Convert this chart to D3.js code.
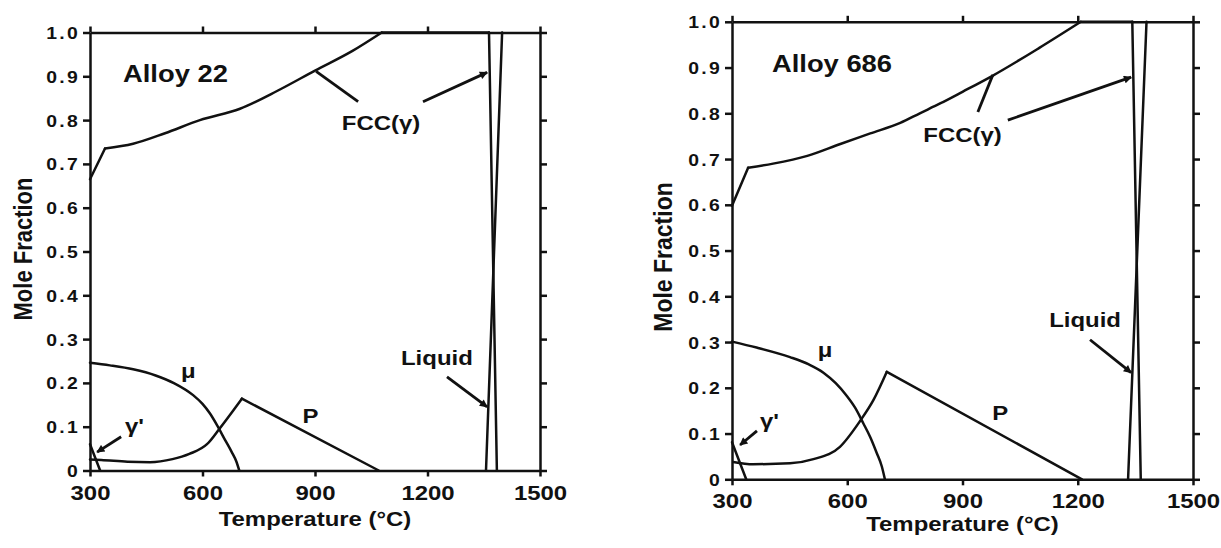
<!DOCTYPE html>
<html>
<head>
<meta charset="utf-8">
<script src="https://cdn.jsdelivr.net/npm/d3@7"></script>
<style>
  body { margin: 0; background: #fff; }
  svg text { font-family: 'Liberation Sans', Arial, sans-serif; font-weight: bold; fill: #111; }
</style>
</head>
<body>
<div class="canvas"></div>
<script>
// axis ticks
const tempTicks = [300, 600, 900, 1200, 1500];
const fracTicks = [0, 0.1, 0.2, 0.3, 0.4, 0.5, 0.6, 0.7, 0.8, 0.9, 1.0];

// Alloy 22 phase fractions [temperature, mole fraction]
const a22Fcc = [[300, 0.665], [340, 0.735], [415, 0.746], [500, 0.77], [593, 0.8], [700, 0.826],
    [800, 0.867], [900, 0.913], [1000, 0.958], [1078, 1.0], [1364, 1.0], [1385, 0]];
const a22Liquid = [[1356, 0], [1399, 1.0]];
const a22Mu = [[300, 0.246], [353, 0.24], [415, 0.231], [475, 0.217], [525, 0.199], [575, 0.172],
    [600, 0.152], [620, 0.13], [641, 0.1], [660, 0.07], [678, 0.042], [690, 0.021], [698, 0]];
const a22P = [[300, 0.025], [330, 0.024], [400, 0.02], [460, 0.019], [520, 0.026], [565, 0.038],
    [612, 0.06], [645, 0.095], [682, 0.137], [705, 0.164], [1070, 0]];
const a22GammaP = [[300, 0.06], [327, 0]];

// Alloy 686 phase fractions
const a686Fcc = [[300, 0.598], [342, 0.681], [407, 0.69], [496, 0.707], [582, 0.733], [660, 0.756],
    [738, 0.779], [789, 0.8], [843, 0.822], [900, 0.847], [978, 0.882], [1100, 0.943], [1208, 1.0],
    [1342, 1.0], [1364, 0]];
const a686Liquid = [[1331, 0], [1379, 1.0]];
const a686Mu = [[300, 0.301], [364, 0.288], [451, 0.267], [500, 0.251], [538, 0.233], [570, 0.21],
    [599, 0.182], [620, 0.157], [642, 0.122], [660, 0.092], [677, 0.057], [690, 0.028], [698, 0]];
const a686P = [[303, 0.038], [355, 0.033], [451, 0.035], [512, 0.044], [581, 0.071], [633, 0.127],
    [668, 0.173], [703, 0.235], [1211, 0]];
const a686GammaP = [[300, 0.081], [337, 0]];

// labels [text, temperature, fraction, anchor]
const a22Labels = [['Alloy 22', 388, 0.886, 'start'], ['FCC(γ)', 1076, 0.778, 'middle'],
    ['Liquid', 1225, 0.241, 'middle'], ['P', 888, 0.109, 'middle'], ['μ', 562, 0.211, 'middle'],
    ["γ'", 393, 0.086, 'start']];
const a686Labels = [['Alloy 686', 404, 0.89, 'start'], ['FCC(γ)', 900, 0.737, 'middle'],
    ['Liquid', 1219, 0.333, 'middle'], ['P', 998, 0.13, 'middle'], ['μ', 542, 0.267, 'middle'],
    ["γ'", 373, 0.112, 'start']];

// leader lines [from, to, arrow]
const a22Leaders = [[[1015, 0.842], [903, 0.911], false], [[1188, 0.842], [1359, 0.909], true],
    [[1252, 0.214], [1359, 0.145], true], [[383, 0.077], [319, 0.042], true]];
const a686Leaders = [[[940, 0.803], [979, 0.884], false], [[1018, 0.785], [1339, 0.879], true],
    [[1232, 0.305], [1339, 0.233], true], [[365, 0.106], [321, 0.075], true]];

const stretch = 1.14;

const svg = d3.select('.canvas')
    .append('svg')
    .attr('width', 1221)
    .attr('height', 548);

svg.append('defs').append('marker')
    .attr('id', 'arrow')
    .attr('viewBox', '0 0 10 10')
    .attr('refX', 9)
    .attr('refY', 5)
    .attr('markerWidth', 10)
    .attr('markerHeight', 8)
    .attr('markerUnits', 'userSpaceOnUse')
    .attr('orient', 'auto')
    .append('path')
        .attr('d', 'M0,0L10,5L0,10z')
        .attr('fill', '#111');

// cut a curve into pieces at its sharp corners
const splitAt = (data, kinks) => {
    const pieces = [[]];
    data.forEach(p => {
        pieces[pieces.length - 1].push(p);
        if (kinks.includes(p[0])) pieces.push([p]);
    });
    return pieces.filter(p => p.length > 1);
};

const drawPanel = (box, series, labels, leaders) => {
    const x = d3.scaleLinear().domain([300, 1500]).range([box.left, box.right]);
    const y = d3.scaleLinear().domain([0, 1]).range([box.bottom, box.top]);
    const g = svg.append('g');

    const fmt = d => d === 0 ? '0' : d3.format('.1f')(d);

    const styleAxis = ax => {
        ax.attr('font-size', null).attr('font-family', null);
        ax.selectAll('path, line').attr('stroke', '#111').attr('stroke-width', 2.5);
    };

    const left = g.append('g')
        .attr('transform', `translate(${box.left}, 0)`)
        .call(d3.axisLeft(y).tickValues(fracTicks).tickSize(7).tickSizeOuter(0).tickFormat(fmt));
    styleAxis(left);
    left.selectAll('text')
        .attr('x', null).attr('dy', null)
        .attr('text-anchor', 'end')
        .style('font-size', '17px')
        .style('letter-spacing', '2px')
        .attr('transform', `translate(-10, 6) scale(${stretch}, 1)`);

    const bottom = g.append('g')
        .attr('transform', `translate(0, ${box.bottom})`)
        .call(d3.axisBottom(x).tickValues(tempTicks).tickSize(6).tickSizeOuter(0).tickFormat(d3.format('d')));
    styleAxis(bottom);
    bottom.selectAll('text')
        .attr('y', null).attr('dy', null)
        .style('font-size', '21px')
        .attr('transform', `translate(0, ${box.tickGap}) scale(${stretch}, 1)`);

    const top = g.append('g')
        .attr('transform', `translate(0, ${box.top})`)
        .call(d3.axisTop(x).tickValues(tempTicks).tickSize(6).tickSizeOuter(0).tickFormat(''));
    styleAxis(top);

    const right = g.append('g')
        .attr('transform', `translate(${box.right}, 0)`)
        .call(d3.axisRight(y).tickValues(fracTicks).tickSize(7).tickSizeOuter(0).tickFormat(''));
    styleAxis(right);

    // axis titles
    g.append('text')
        .attr('text-anchor', 'middle')
        .style('font-size', '21px')
        .attr('transform', `translate(${(box.left + box.right) / 2}, ${box.xTitle}) scale(${stretch}, 1)`)
        .text('Temperature (°C)');

    g.append('text')
        .attr('text-anchor', 'middle')
        .style('font-size', box.yTitleSize + 'px')
        .attr('transform', `translate(${box.yTitleX}, ${box.yTitleY}) scale(${stretch}, 1) rotate(-90)`)
        .text('Mole Fraction');

    // phase curves, smooth between the corners
    const line = d3.line()
        .x(d => x(d[0]))
        .y(d => y(d[1]))
        .curve(d3.curveMonotoneX);

    series.forEach(s => {
        splitAt(s.data, s.kinks || []).forEach(piece => {
            g.append('path')
                .datum(piece)
                .attr('fill', 'none')
                .attr('stroke', '#111')
                .attr('stroke-width', 2.5)
                .attr('stroke-linejoin', 'round')
                .attr('stroke-linecap', 'round')
                .attr('d', line);
        });
    });

    // leaders
    g.selectAll('.leader')
        .data(leaders)
        .enter()
        .append('line')
            .attr('class', 'leader')
            .attr('x1', d => x(d[0][0]))
            .attr('y1', d => y(d[0][1]))
            .attr('x2', d => x(d[1][0]))
            .attr('y2', d => y(d[1][1]))
            .attr('stroke', '#111')
            .attr('stroke-width', 2.8)
            .attr('marker-end', d => d[2] ? 'url(#arrow)' : null);

    // labels
    g.selectAll('.label')
        .data(labels)
        .enter()
        .append('text')
            .attr('class', 'label')
            .attr('text-anchor', d => d[3])
            .style('font-size', d => d[0].startsWith('Alloy') ? '24px' : '21px')
            .attr('transform', d => `translate(${x(d[1])}, ${y(d[2])}) scale(${stretch}, 1)`)
            .text(d => d[0]);
};

drawPanel(
    { left: 90, right: 540, top: 32.5, bottom: 470.5, tickGap: 29, xTitle: 526,
      yTitleX: 32, yTitleY: 249, yTitleSize: 22 },
    [
        { data: a22Fcc, kinks: [340, 1078, 1364] }, { data: a22Liquid }, { data: a22Mu },
        { data: a22P, kinks: [705] }, { data: a22GammaP }
    ],
    a22Labels, a22Leaders
);

drawPanel(
    { left: 732, right: 1193, top: 21.8, bottom: 479.3, tickGap: 29, xTitle: 531,
      yTitleX: 672, yTitleY: 257, yTitleSize: 23 },
    [
        { data: a686Fcc, kinks: [342, 1208, 1342] }, { data: a686Liquid }, { data: a686Mu },
        { data: a686P, kinks: [703] }, { data: a686GammaP }
    ],
    a686Labels, a686Leaders
);
</script>
</body>
</html>
